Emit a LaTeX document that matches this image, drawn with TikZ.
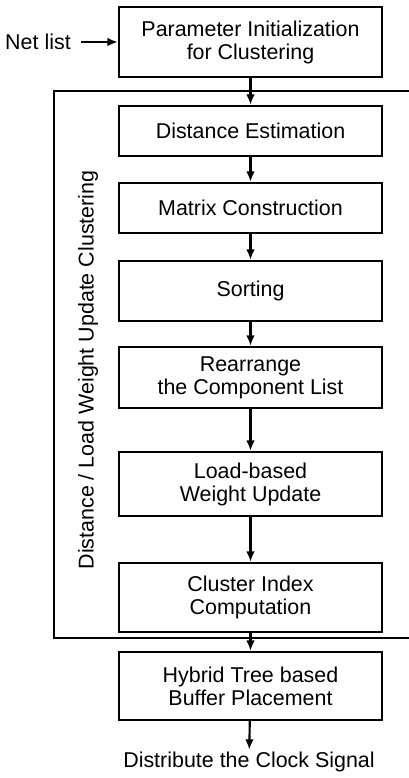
\documentclass[tikz,border=0pt]{standalone}
\usepackage{fontspec}
\setmainfont{Liberation Sans}
\usepackage{tikz}
\usetikzlibrary{calc,arrows.meta}
\tikzset{>={Latex[length=2.1mm,width=1.7mm]}}

\begin{document}
\begin{tikzpicture}
      \tikzstyle{txt}=[font=\fontsize{12.2}{13.1}\selectfont]
      \tikzstyle{block}=[txt,draw,line width=1.2pt,minimum width=5.26cm,align=center,inner sep=0pt]
      \tikzstyle{flow}=[line width=1.2pt,->]
      \useasboundingbox (0,0) rectangle (8.18,15.56);
      %%% input
      \node (param) at (5.01,14.72) [block,minimum height=1.4cm] {Parameter Initialization\\for Clustering};
      \node (netlist) at (0.76,14.72) [txt,inner sep=0.2cm] {Net list};
      \draw[flow] (netlist) -- (param);
      %%% clustering loop
      \draw[line width=1.2pt] (8.18,13.74) -- (1.08,13.74) -- (1.08,2.80) -- (8.18,2.80);
      \node (loop) at (1.76,8.16) [txt,rotate=90] {Distance / Load Weight Update Clustering};
      \node (dist) at (5.01,12.94) [block,minimum height=1.0cm] {Distance Estimation};
      \node (matrix) at (5.01,11.40) [block,minimum height=1.0cm] {Matrix Construction};
      \node (sort) at (5.01,9.74) [block,minimum height=1.2cm] {Sorting};
      \node (rearr) at (5.01,8.01) [block,minimum height=1.22cm] {Rearrange\\the Component List};
      \node (load) at (5.01,5.88) [block,minimum height=1.28cm] {Load-based\\Weight Update};
      \node (index) at (5.01,3.61) [block,minimum height=1.38cm] {Cluster Index\\Computation};
      \draw[flow] (param) -- (dist);
      \draw[flow] (dist) -- (matrix);
      \draw[flow] (matrix) -- (sort);
      \draw[flow] (sort) -- (rearr);
      \draw[flow] (rearr) -- (load);
      \draw[flow] (load) -- (index);
      %%% output
      \node (hybrid) at (5.01,1.84) [block,minimum height=1.36cm] {Hybrid Tree based\\Buffer Placement};
      \node (clock) at (4.98,0.32) [txt,inner sep=1pt] {Distribute the Clock Signal};
      \draw[flow] (index) -- (hybrid);
      \draw[flow] (hybrid) -- (clock);
\end{tikzpicture}
\end{document}
